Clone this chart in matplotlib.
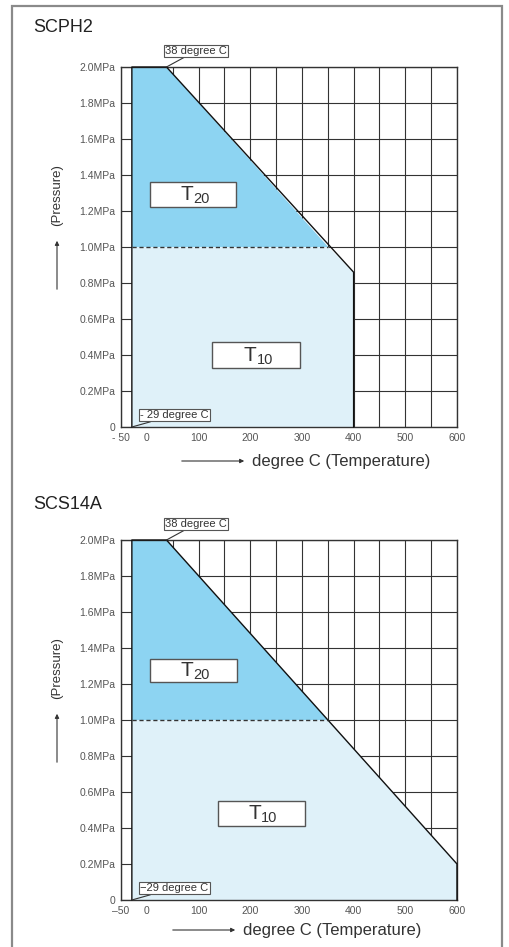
import numpy as np
import matplotlib.pyplot as plt
from matplotlib.patches import Rectangle, FancyArrowPatch

plt.rcParams['font.family'] = ['Liberation Sans', 'DejaVu Sans']

# chart data
titles = ['SCPH2', 'SCS14A']
min_temp = -29          # lower temperature limit
corner_temp = 38        # end of the 2.0 MPa plateau
t20_temp = 351          # where the T20 limit meets 1.0 MPa
t20_press = 1.0
max_press = 2.0
end_temps = [400, 600]         # upper temperature limit per material
end_press = [0.86, 0.2]        # pressure at the upper temperature limit

yticks = [0, 0.2, 0.4, 0.6, 0.8, 1.0, 1.2, 1.4, 1.6, 1.8, 2.0]
ytick_labels = ['0', '0.2MPa', '0.4MPa', '0.6MPa', '0.8MPa', '1.0MPa',
                '1.2MPa', '1.4MPa', '1.6MPa', '1.8MPa', '2.0MPa']
xticks = list(range(-50, 601, 50))
xlabels_top = ['- 50', '0', '', '100', '', '200', '', '300', '', '400', '', '500', '', '600']
xlabels_bot = ['\u201350', '0', '', '100', '', '200', '', '300', '', '400', '', '500', '', '600']
min_temp_labels = ['- 29 degree C', '\u221229 degree C']
t20_box = [(6, 172, 1.22, 1.36), (6, 175, 1.21, 1.34)]
t10_box = [(127, 297, 0.33, 0.47), (137, 305, 0.41, 0.55)]

W, H = 509, 947
fig = plt.figure(figsize=(W / 100, H / 100), dpi=100)

# outer grey frame
fig.add_artist(Rectangle((12 / W, -0.05), (502 - 12) / W, 1.05 - 6 / H,
                         transform=fig.transFigure, fill=False,
                         edgecolor='#8a8a8a', linewidth=1.6))

dark = '#8dd4f2'
light = '#dff1f9'
gridc = '#333333'
tickc = '#555555'

axes_px = [(67, 427), (540, 900)]   # top/bottom pixel of each plot
left_px, right_px = 121, 457


def fx(px):
    return px / W


def fy(py):
    return 1 - py / H


for i in range(2):
    top, bot = axes_px[i]
    ax = fig.add_axes([fx(left_px), fy(bot), (right_px - left_px) / W, (bot - top) / H])
    ax.set_xlim(-50, 600)
    ax.set_ylim(0, 2.0)
    ax.set_xticks(xticks)
    ax.set_xticklabels(xlabels_top if i == 0 else xlabels_bot)
    ax.set_yticks(yticks)
    ax.set_yticklabels(ytick_labels)
    ax.tick_params(axis='x', length=0, pad=4, labelsize=7.5, labelcolor=tickc)
    ax.tick_params(axis='y', length=0, pad=4, labelsize=7.5, labelcolor=tickc)
    ax.grid(True, color=gridc, linewidth=0.8)
    ax.set_axisbelow(True)
    for s in ax.spines.values():
        s.set_color(gridc)
        s.set_linewidth(1.0)

    et, ep = end_temps[i], end_press[i]
    # T20 region
    ax.fill([min_temp, min_temp, corner_temp, t20_temp],
            [t20_press, max_press, max_press, t20_press],
            color=dark, linewidth=0, zorder=1)
    # T10 region
    ax.fill([min_temp, min_temp, t20_temp, et, et],
            [0, t20_press, t20_press, ep, 0],
            color=light, linewidth=0, zorder=1)
    # boundary
    ax.plot([min_temp, min_temp, corner_temp, et, et],
            [0, max_press, max_press, ep, 0],
            color='#111111', linewidth=1.0, zorder=3, clip_on=False)
    ax.plot([min_temp, t20_temp], [t20_press, t20_press],
            color='#333333', linewidth=1.0, linestyle=(0, (3, 2)), zorder=3)

    # T20 / T10 label boxes
    for (x0, x1, y0, y1), sub in [(t20_box[i], '20'), (t10_box[i], '10')]:
        ax.add_patch(Rectangle((x0, y0), x1 - x0, y1 - y0, facecolor='white',
                               edgecolor='#555555', linewidth=1.0, zorder=4))
        ax.text((x0 + x1) / 2, (y0 + y1) / 2, 'T', fontsize=15, color='#333333',
                ha='right', va='center', zorder=5)
        ax.text((x0 + x1) / 2, (y0 + y1) / 2 - 0.025, sub, fontsize=10.5,
                color='#333333', ha='left', va='center', zorder=5)

    # temperature callouts
    ax.annotate('38 degree C', xy=(corner_temp, max_press), xytext=(-1, 8),
                textcoords='offset points', ha='left', va='bottom', fontsize=8,
                color='#333333', annotation_clip=False,
                bbox=dict(boxstyle='square,pad=0.12', fc='white', ec='#555555', lw=0.8),
                arrowprops=dict(arrowstyle='-', color='#333333', lw=0.8,
                                shrinkA=0, shrinkB=0))
    ax.annotate(min_temp_labels[i], xy=(min_temp, 0), xytext=(6, 5),
                textcoords='offset points', ha='left', va='bottom', fontsize=8,
                color='#333333', annotation_clip=False, zorder=6,
                bbox=dict(boxstyle='square,pad=0.12', fc='white', ec='#555555', lw=0.8),
                arrowprops=dict(arrowstyle='-', color='#333333', lw=0.8,
                                shrinkA=0, shrinkB=0))

    # titles and axis captions (pixel positions)
    off = 0 if i == 0 else 473
    fig.text(fx(33), fy(27 + off + (4 if i else 0)), titles[i], fontsize=13,
             color='#222222', ha='left', va='center')
    fig.text(fx(57), fy(195 + off), '(Pressure)', rotation=90, fontsize=9.5,
             color='#333333', ha='center', va='center')
    fig.add_artist(FancyArrowPatch((fx(57), fy(292 + off)), (fx(57), fy(238 + off)),
                                   transform=fig.transFigure, arrowstyle='-|>',
                                   mutation_scale=6, color='#333333', lw=0.8))
    ly = 461 if i == 0 else 930
    lx0 = 179 if i == 0 else 170
    fig.add_artist(FancyArrowPatch((fx(lx0), fy(ly)), (fx(lx0 + 68), fy(ly)),
                                   transform=fig.transFigure, arrowstyle='-|>',
                                   mutation_scale=6, color='#333333', lw=0.8))
    fig.text(fx(lx0 + 73), fy(ly), 'degree C (Temperature)', fontsize=12,
             color='#333333', ha='left', va='center')

fig.savefig('out.png', dpi=100)
